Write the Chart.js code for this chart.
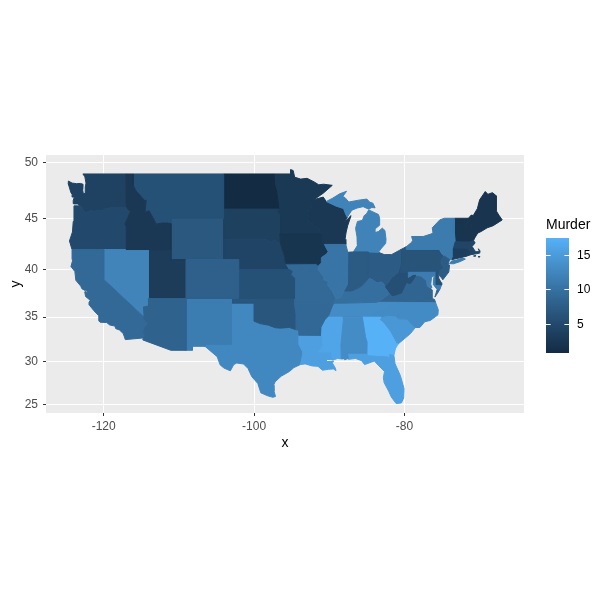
<!DOCTYPE html>
<html><head><meta charset="utf-8">
<style>html,body{margin:0;padding:0;background:#fff}canvas{display:block}</style>
<script src="https://cdn.jsdelivr.net/npm/chart.js@4"></script>
</head><body>
<canvas id="c" width="606" height="606" style="width:606px;height:606px"></canvas>
<script>
const xTicks = [-120, -100, -80];
const latTicks = [25, 30, 35, 40, 45, 50];
const legendTicks = [5, 10, 15];
const stateNames = ["Alabama","Arizona","Arkansas","California","Colorado","Connecticut","Delaware","Florida","Georgia","Idaho","Illinois","Indiana","Iowa","Kansas","Kentucky","Louisiana","Maine","Maryland","Massachusetts","Michigan","Minnesota","Mississippi","Missouri","Montana","Nebraska","Nevada","New Hampshire","New Jersey","New Mexico","New York","North Carolina","North Dakota","Ohio","Oklahoma","Oregon","Pennsylvania","Rhode Island","South Carolina","South Dakota","Tennessee","Texas","Utah","Vermont","Virginia","Washington","West Virginia","Wisconsin","Wyoming"];
const murder = [13.2,8.1,8.8,9.0,7.9,3.3,5.9,15.4,17.4,2.6,10.4,7.2,2.2,6.0,9.7,15.4,2.1,11.3,4.4,12.1,2.7,16.1,9.0,6.0,4.3,12.2,2.1,7.4,11.4,11.1,13.0,0.8,7.3,6.6,4.9,6.3,3.4,14.4,3.8,13.2,12.7,3.2,2.2,8.5,4.0,5.7,2.6,6.8];
// lon,lat pairs for every part of every state, same order as stateNames
const stateOutlines = [
[[-88.2,35,-85.6,35,-85.18,32.87,-85,32.3,-85.05,31.55,-85,31,-87.6,31,-87.45,30.4,-88,30.25,-88.05,30.65,-88.15,30.35,-88.4,30.35,-88.45,31.9,-88.1,34.9]],
[[-114.04,37,-109.05,37,-109.05,31.33,-111.07,31.33,-114.8,32.5,-114.72,32.72,-114.5,33,-114.72,33.4,-114.45,34,-114.14,34.3,-114.57,34.8,-114.63,35,-114.7,36.1,-114.04,36.2]],
[[-94.62,36.5,-90.15,36.5,-90.37,36,-89.7,36,-90.05,35.2,-90.6,34.7,-91.1,33.9,-91.17,33,-94.04,33.02,-94.04,33.55,-94.48,33.64,-94.43,35.4]],
[[-124.21,42,-120,42,-120,39,-114.63,35,-114.57,34.8,-114.14,34.3,-114.45,34,-114.72,33.4,-114.5,33,-114.72,32.72,-117.12,32.53,-117.25,32.85,-117.4,33.2,-117.9,33.6,-118.4,33.75,-118.5,34.03,-119.2,34.15,-119.6,34.42,-120.47,34.45,-120.65,34.6,-120.65,35.15,-121.3,35.7,-121.9,36.3,-121.95,36.6,-121.8,36.8,-122,36.96,-122.4,37.2,-122.52,37.7,-122.4,37.75,-122.1,37.5,-122.3,37.9,-122.5,37.85,-122.9,38.03,-123.05,38.3,-123.7,38.9,-123.83,39.8,-124.35,40.3,-124.1,41,-124.2,41.75]],
[[-109.05,41,-102.05,41,-102.05,37,-109.05,37]],
[[-73.5,42.05,-71.8,42.02,-71.85,41.32,-73.65,41,-73.5,41.3]],
[[-75.8,39.72,-75.4,39.8,-75.55,39.5,-75.4,39.05,-75.1,38.65,-75.05,38.45,-75.7,38.46]],
[[-87.6,31,-85,31,-84.85,30.7,-82.2,30.57,-82.05,30.36,-81.95,30.83,-81.4,30.75,-81.25,29.8,-80.55,28.45,-80.05,26.9,-80.1,25.8,-80.4,25.2,-81.1,25.12,-81.75,25.9,-82.1,26.6,-82.7,27.6,-82.8,28.2,-82.65,28.9,-83.4,29.55,-84,30.1,-84.35,30,-85.3,29.7,-85.7,30.15,-86.5,30.4,-87.45,30.3]],
[[-85.6,35,-83.1,35,-83.35,34.7,-82.9,34.45,-82,33.5,-81.4,32.6,-81.1,32.1,-80.85,32.03,-81.2,31.5,-81.4,30.75,-81.95,30.83,-82.05,30.36,-82.2,30.57,-84.85,30.7,-85,31,-85.05,31.55,-85,32.3,-85.18,32.87]],
[[-117.03,49,-116.05,49,-116.05,48,-115.7,47.5,-115,47,-114.6,46.65,-114.35,46.65,-114.5,45.55,-113.95,45.7,-113.45,45.05,-113,44.45,-112.3,44.55,-111.5,44.55,-111.05,44.48,-111.05,42,-117.03,42,-117.03,43.8,-116.93,44.1,-117.03,44.25,-117.2,44.45,-116.85,44.95,-116.47,45.6,-116.92,45.99,-117.04,46.43]],
[[-90.65,42.5,-87.8,42.5,-87.53,41.72,-87.53,39.35,-87.6,38.5,-88.05,37.8,-88.45,37.1,-89.15,37,-89.55,37.7,-90.2,38.4,-90.15,38.8,-90.7,38.95,-90.75,39.3,-91.5,40,-91.42,40.38,-91,40.7,-91.05,41.2,-90.35,41.55,-90.15,41.8]],
[[-87.53,41.72,-87.2,41.75,-86.8,41.76,-84.82,41.76,-84.82,39.1,-85.2,38.7,-85.7,38.3,-86.5,37.95,-87.1,37.8,-88.05,37.8,-87.6,38.5,-87.53,39.35]],
[[-96.6,43.5,-91.22,43.5,-91.1,42.7,-90.65,42.5,-90.15,41.8,-90.35,41.55,-91.05,41.2,-91,40.7,-91.42,40.38,-91.75,40.6,-95.75,40.58,-95.85,40.7,-95.9,41.2,-96.1,41.7,-96.45,42.5]],
[[-102.05,40,-95.3,40,-94.9,39.8,-95.1,39.5,-94.61,39.1,-94.62,37,-102.05,37]],
[[-89.4,36.5,-88.05,36.5,-83.68,36.6,-83.1,36.85,-82,37.5,-82.6,38.15,-82.6,38.4,-83,38.73,-83.7,38.65,-84.3,39,-84.82,39.1,-85.2,38.7,-85.7,38.3,-86.5,37.95,-87.1,37.8,-88.05,37.8,-88.45,37.1,-89.15,37]],
[[-94.04,33.02,-91.17,33,-91.1,32.4,-90.95,31.9,-91.6,31,-89.75,31,-89.85,30.65,-89.55,30.25,-90.4,30.3,-90.4,30.05,-89.4,30.05,-89.6,29.9,-89.2,29.3,-89.1,29,-89.45,29.2,-90.1,29.15,-90.9,29.05,-91.5,29.5,-92.3,29.55,-93.2,29.78,-93.85,29.7,-93.72,30.1,-93.55,30.8,-93.55,31.2,-94.04,32]],
[[-71.1,45.3,-70.85,45.25,-70.3,45.9,-70,46.7,-69.25,47.45,-68.9,47.2,-68.3,47.35,-67.8,47.07,-67.8,45.7,-67.45,45.3,-67,44.85,-68.2,44.3,-69,44.1,-69.8,43.75,-70.25,43.6,-70.7,43.07,-70.98,43.4]],
[[-79.48,39.72,-75.8,39.72,-75.7,38.46,-75.05,38.45,-75.25,38.03,-75.65,37.95,-75.9,38.2,-76.2,38.5,-76.15,39,-76,39.4,-76.4,39.2,-76.5,38.5,-76.35,38.1,-76.95,38.3,-77.05,38.7,-77.05,38.85,-77.72,39.32,-78.35,39.4,-78.45,39.55,-78.85,39.5,-79.48,39.2]],
[[-73.5,42.05,-73.25,42.75,-71.25,42.74,-70.8,42.87,-70.6,42.65,-71,42.3,-70.7,41.95,-70.5,41.78,-70,41.8,-70.2,42.07,-69.95,41.9,-69.98,41.65,-70.65,41.55,-71.12,41.5,-71.38,42.02,-71.8,42.02],[-70.82,41.36,-70.48,41.4,-70.6,41.33],[-70.2,41.3,-69.97,41.3,-70.05,41.24]],
[[-90.4,46.55,-89.1,46.13,-88.1,45.9,-87.8,45.35,-87.6,45.1,-87,45.75,-86.3,45.95,-85.5,46.08,-84.75,45.85,-84.35,46,-83.9,45.97,-84.2,46.4,-84.6,46.48,-85,46.77,-86.1,46.67,-87.4,46.5,-87.9,46.9,-88.2,47,-87.7,47.47,-88.6,47.25,-89.6,46.83],[-86.8,41.76,-84.82,41.76,-83.45,41.73,-83.15,42.05,-82.5,42.6,-82.45,43,-82.6,43.85,-82.95,44.07,-83.45,43.75,-83.9,43.65,-83.9,44,-83.3,44.35,-83.3,45,-83.45,45.35,-84.75,45.78,-85.05,45.4,-85.35,45.25,-85.6,44.8,-86.25,44.7,-86.5,44.05,-86.3,43.2,-86.25,42.4]],
[[-97.23,49,-95.15,49,-95.15,49.38,-94.8,49.3,-94.6,48.72,-93.8,48.55,-92.95,48.62,-92,48.3,-91.4,48.05,-90.75,48.1,-89.6,48,-90.8,47.3,-92.05,46.72,-92.3,46.65,-92.3,46.1,-92.85,45.6,-92.75,44.75,-91.9,44.3,-91.25,43.85,-91.22,43.5,-96.45,43.5,-96.45,45.3,-96.85,45.6,-96.56,45.94,-96.75,46.9,-96.85,47.5,-97.1,48]],
[[-91.17,33,-91.1,33.9,-90.6,34.7,-90.3,35,-88.2,35,-88.1,34.9,-88.45,31.9,-88.4,30.35,-88.9,30.4,-89.55,30.2,-89.85,30.65,-89.75,31,-91.6,31,-90.95,31.9,-91.1,32.4]],
[[-95.75,40.58,-91.75,40.6,-91.42,40.38,-91.5,40,-90.75,39.3,-90.7,38.95,-90.15,38.8,-90.2,38.4,-89.55,37.7,-89.15,37,-89.4,36.5,-89.7,36,-90.37,36,-90.15,36.5,-94.62,36.5,-94.62,37,-94.61,39.1,-95.1,39.5,-94.9,39.8,-95.3,40]],
[[-116.05,49,-104.05,49,-104.05,45,-111.05,45,-111.05,44.48,-111.5,44.55,-112.3,44.55,-113,44.45,-113.45,45.05,-113.95,45.7,-114.5,45.55,-114.35,46.65,-114.6,46.65,-115,47,-115.7,47.5,-116.05,48]],
[[-104.05,43,-98.5,43,-97.9,42.8,-97.2,42.85,-96.45,42.5,-96.1,41.7,-95.9,41.2,-95.85,40.7,-95.3,40,-102.05,40,-102.05,41,-104.05,41]],
[[-120,42,-114.04,42,-114.04,36.2,-114.7,36.1,-114.63,35,-120,39]],
[[-71.5,45,-71.1,45.3,-70.98,43.4,-70.7,43.07,-70.8,42.87,-71.25,42.74,-72.45,42.73,-72.3,43.5,-72.05,44.1,-71.6,44.5]],
[[-74.7,41.36,-74,41,-74.2,40.5,-74,40.45,-74.1,39.75,-74.9,38.95,-75.1,39.2,-75.55,39.5,-75.4,39.8,-74.72,40.15,-75.1,40.55,-75.15,40.95]],
[[-109.05,37,-103,37,-103.05,32,-106.62,32,-106.53,31.78,-108.2,31.78,-108.2,31.33,-109.05,31.33]],
[[-79.76,42.27,-79.05,42.7,-78.9,42.9,-79.05,43.27,-77.5,43.27,-76.5,43.5,-76.2,43.6,-76.3,44.1,-75.3,44.85,-74.7,45,-73.35,45,-73.4,44.2,-73.3,43.6,-73.25,42.75,-73.5,42.05,-73.5,41.3,-73.65,41,-74,41,-74.7,41.36,-75.05,41.6,-75.35,42,-79.76,42],[-74,40.6,-73.75,40.85,-73.1,40.95,-72.3,41.15,-71.9,41.05,-72.6,40.8,-73.5,40.58]],
[[-84.32,35,-83.1,35,-82.3,35.2,-81.05,35.15,-81.05,35.05,-80.8,34.82,-79.67,34.8,-78.55,33.87,-77.95,33.87,-77.3,34.5,-76.55,34.65,-75.55,35.25,-75.5,35.8,-75.85,36.55,-81.68,36.59,-81.9,36.3,-82.6,36,-83.1,35.77,-84,35.4]],
[[-104.05,49,-97.23,49,-97.1,48,-96.85,47.5,-96.75,46.9,-96.56,45.94,-104.05,45.94]],
[[-84.82,41.76,-83.45,41.73,-82.7,41.5,-81.7,41.5,-80.52,41.98,-80.52,40.64,-80.85,39.7,-81.7,39.2,-82.2,38.6,-82.6,38.4,-83,38.73,-83.7,38.65,-84.3,39,-84.82,39.1]],
[[-103,37,-94.62,37,-94.62,36.5,-94.43,35.4,-94.48,33.64,-95.3,33.88,-96.5,33.8,-97.2,33.85,-98.1,34.13,-99.2,34.3,-100,34.56,-100,36.5,-103,36.5]],
[[-124.21,42,-124.55,42.84,-124.15,43.7,-124.05,44.7,-123.95,45.5,-123.95,46.15,-123.45,46.15,-123.2,46.15,-122.9,46.08,-122.78,45.85,-122.65,45.62,-122.3,45.55,-121.8,45.7,-121.2,45.65,-120.65,45.74,-120.2,45.73,-119.6,45.92,-119.3,45.93,-118.98,46,-116.92,45.99,-116.47,45.6,-116.85,44.95,-117.2,44.45,-117.03,44.25,-116.93,44.1,-117.03,43.8,-117.03,42]],
[[-80.52,41.98,-79.76,42.27,-79.76,42,-75.35,42,-75.05,41.6,-74.7,41.36,-75.15,40.95,-75.1,40.55,-74.72,40.15,-75.4,39.8,-75.8,39.72,-80.52,39.72]],
[[-71.8,42.02,-71.38,42.02,-71.12,41.5,-71.85,41.32]],
[[-83.1,35,-82.3,35.2,-81.05,35.15,-81.05,35.05,-80.8,34.82,-79.67,34.8,-78.55,33.87,-79.2,33.2,-79.9,32.7,-80.85,32.03,-81.1,32.1,-81.4,32.6,-82,33.5,-82.9,34.45,-83.35,34.7]],
[[-104.05,45.94,-96.56,45.94,-96.85,45.6,-96.45,45.3,-96.45,43.5,-96.6,43.5,-96.45,42.5,-97.2,42.85,-97.9,42.8,-98.5,43,-104.05,43]],
[[-90.3,35,-88.2,35,-85.6,35,-84.32,35,-84,35.4,-83.1,35.77,-82.6,36,-81.9,36.3,-81.68,36.59,-83.68,36.6,-88.05,36.5,-89.4,36.5,-89.7,36,-90.05,35.2]],
[[-103,36.5,-100,36.5,-100,34.56,-99.2,34.3,-98.1,34.13,-97.2,33.85,-96.5,33.8,-95.3,33.88,-94.48,33.64,-94.04,33.55,-94.04,33.02,-94.04,32,-93.55,31.2,-93.55,30.8,-93.72,30.1,-93.85,29.7,-94.7,29.35,-95.3,28.9,-96.4,28.35,-97.2,27.7,-97.4,27.3,-97.35,26.6,-97.15,25.97,-97.5,25.87,-98.2,26.05,-99.1,26.4,-99.5,27.5,-100.3,28.3,-100.8,29.25,-101.4,29.77,-102.3,29.88,-102.7,29.7,-103.15,28.98,-104,29.3,-104.5,29.65,-104.9,30.6,-106,31.4,-106.53,31.78,-106.62,32,-103.05,32]],
[[-114.04,42,-111.05,42,-111.05,41,-109.05,41,-109.05,37,-114.04,37]],
[[-73.35,45,-71.5,45,-71.6,44.5,-72.05,44.1,-72.3,43.5,-72.45,42.73,-73.25,42.75,-73.3,43.6,-73.4,44.2]],
[[-83.68,36.6,-81.68,36.59,-75.85,36.55,-76,36.9,-76.3,37,-76.3,37.55,-76.3,37.9,-76.95,38.3,-77.05,38.7,-77.05,38.85,-77.72,39.32,-78.35,39.4,-78.85,38.75,-79.3,38.42,-79.65,38.58,-80.3,37.5,-81.25,37.25,-81.68,37.2,-82,37.5,-83.1,36.85],[-75.95,37.15,-75.65,37.95,-75.25,38.03,-75.6,37.55]],
[[-122.76,49,-117.03,49,-117.04,46.43,-116.92,45.99,-118.98,46,-119.3,45.93,-119.6,45.92,-120.2,45.73,-120.65,45.74,-121.2,45.65,-121.8,45.7,-122.3,45.55,-122.65,45.62,-122.78,45.85,-122.9,46.08,-123.2,46.15,-123.45,46.33,-123.9,46.33,-124.05,46.35,-124.05,46.65,-123.9,46.95,-124.15,46.95,-124.2,47.2,-124.35,47.35,-124.6,47.9,-124.73,48.17,-124.7,48.38,-124.2,48.2,-123.6,48.15,-123.1,48.17,-122.75,48.1,-122.8,47.6,-122.7,47.25,-122.4,47.3,-122.45,47.85,-122.35,48.2,-122.5,48.75]],
[[-82.6,38.4,-82.6,38.15,-82,37.5,-81.68,37.2,-81.25,37.25,-80.3,37.5,-79.65,38.58,-79.3,38.42,-78.85,38.75,-78.35,39.4,-77.72,39.32,-78.35,39.4,-78.45,39.55,-78.85,39.5,-79.48,39.2,-79.48,39.72,-80.52,39.72,-80.52,40.64,-80.85,39.7,-81.7,39.2,-82.2,38.6]],
[[-92.05,46.72,-90.8,46.95,-90.4,46.55,-89.1,46.13,-88.1,45.9,-87.8,45.35,-87.6,45.1,-88,44.55,-87.4,45.05,-87.1,45.25,-87.55,44.3,-87.75,43.7,-87.9,43,-87.8,42.5,-90.65,42.5,-91.1,42.7,-91.22,43.5,-91.25,43.85,-91.9,44.3,-92.75,44.75,-92.85,45.6,-92.3,46.1,-92.3,46.65]],
[[-111.05,45,-104.05,45,-104.05,41,-111.05,41]]
];
const lowColor = [0x13,0x2B,0x43], highColor = [0x56,0xB1,0xF7];
const FONT = '"Liberation Sans", Arial, sans-serif';

function merc(lat){ return Math.log(Math.tan(Math.PI/4 + lat*Math.PI/360))*180/Math.PI; }
function toLab(c){
  const f=c.map(v=>{v/=255;return v>0.04045?Math.pow((v+0.055)/1.055,2.4):v/12.92;});
  const X=(0.4124564*f[0]+0.3575761*f[1]+0.1804375*f[2])/0.95047,
        Y=0.2126729*f[0]+0.7151522*f[1]+0.072175*f[2],
        Z=(0.0193339*f[0]+0.119192*f[1]+0.9503041*f[2])/1.08883;
  const g=t=>t>0.008856?Math.cbrt(t):7.787*t+16/116;
  return [116*g(Y)-16,500*(g(X)-g(Y)),200*(g(Y)-g(Z))];
}
function fromLab(l){
  const y=(l[0]+16)/116,x=l[1]/500+y,z=y-l[2]/200;
  const h=t=>t*t*t>0.008856?t*t*t:(t-16/116)/7.787;
  const X=h(x)*0.95047,Y=h(y),Z=h(z)*1.08883;
  const rgb=[3.2404542*X-1.5371385*Y-0.4985314*Z,-0.969266*X+1.8760108*Y+0.041556*Z,0.0556434*X-0.2040259*Y+1.0572252*Z];
  return rgb.map(v=>{v=v>0.0031308?1.055*Math.pow(v,1/2.4)-0.055:12.92*v;return Math.round(Math.max(0,Math.min(1,v))*255);});
}
const lowLab=toLab(lowColor), highLab=toLab(highColor);
const mMin=Math.min(...murder), mMax=Math.max(...murder);
function colorFor(v){
  const t=(v-mMin)/(mMax-mMin);
  const c=fromLab(lowLab.map((a,i)=>a+(highLab[i]-a)*t));
  return `rgb(${c[0]},${c[1]},${c[2]})`;
}

const datasets=[];
stateOutlines.forEach((parts,i)=>{
  parts.forEach(flat=>{
    const pts=[];
    for(let k=0;k<flat.length;k+=2) pts.push({x:flat[k],y:merc(flat[k+1])});
    pts.push({x:flat[0],y:merc(flat[1])});
    const col=colorFor(murder[i]);
    datasets.push({label:stateNames[i],data:pts,showLine:true,fill:'shape',backgroundColor:col,borderColor:col,borderWidth:1,borderJoinStyle:'round',pointRadius:0,pointHoverRadius:0,tension:0});
  });
});

const panelBg={id:'panelBg',beforeDraw(ch){const a=ch.chartArea,c=ch.ctx;c.save();c.fillStyle='#EBEBEB';c.fillRect(a.left,a.top,a.right-a.left,a.bottom-a.top);c.restore();}};
const colorBar={id:'colorBar',afterDraw(ch){
  const c=ch.ctx, L=546,R=569,T=238,B=353;
  const yOf=v=>B-(v-mMin)/(mMax-mMin)*(B-T);
  c.save();
  const g=c.createLinearGradient(0,B,0,T);
  for(let i=0;i<=20;i++){const v=mMin+(mMax-mMin)*i/20;g.addColorStop(i/20,colorFor(v));}
  c.fillStyle=g;c.fillRect(L,T,R-L,B-T);
  c.strokeStyle='#fff';c.lineWidth=1;
  c.textAlign='left';c.textBaseline='middle';c.fillStyle='#000';c.font='12px '+FONT;
  legendTicks.forEach(v=>{
    const y=Math.round(yOf(v))+0.5;
    c.beginPath();c.moveTo(L,y);c.lineTo(L+4.6,y);c.moveTo(R-4.6,y);c.lineTo(R,y);c.stroke();
    c.fillText(String(v),577,y);
  });
  c.font='14px '+FONT;c.fillText('Murder',546,225);
  c.restore();
}};

new Chart(document.getElementById('c'),{
  type:'scatter',
  data:{datasets},
  plugins:[panelBg,colorBar],
  options:{
    responsive:false,animation:false,devicePixelRatio:1,
    layout:{padding:{left:0,top:155,right:82,bottom:0}},
    plugins:{legend:{display:false},tooltip:{enabled:false}},
    events:[],
    scales:{
      x:{type:'linear',min:-127.67,max:-64.1,
        afterBuildTicks(s){s.ticks=xTicks.map(v=>({value:v}));},
        afterFit(s){s.height=193;},
        grid:{color:'#fff',lineWidth:1,tickColor:'#333333',tickLength:3,drawOnChartArea:true},
        border:{display:false},
        ticks:{color:'#4D4D4D',font:{family:FONT,size:12},padding:3,maxRotation:0,autoSkip:false,callback:v=>String(v)},
        title:{display:true,text:'x',color:'#000',font:{family:FONT,size:14},padding:{top:0,bottom:154}}
      },
      y:{type:'linear',min:merc(25)-1.117,max:merc(50)+0.97,
        afterBuildTicks(s){s.ticks=latTicks.map(v=>({value:merc(v)}));},
        afterFit(s){s.width=46;},
        grid:{color:'#fff',lineWidth:1,tickColor:'#333333',tickLength:3},
        border:{display:false},
        ticks:{color:'#4D4D4D',font:{family:FONT,size:12},padding:5,autoSkip:false,callback:(v,i)=>String(latTicks[i])},
        title:{display:true,text:'y',color:'#000',font:{family:FONT,size:14},padding:{top:8,bottom:0}}
      }
    }
  }
});
</script>
</body></html>
